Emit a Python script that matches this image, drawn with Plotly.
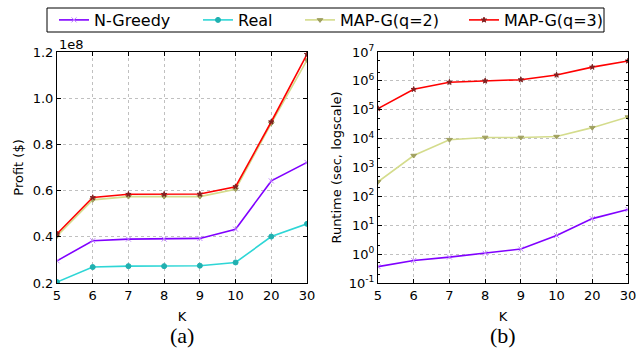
import plotly.graph_objects as go

K = ["5", "6", "7", "8", "9", "10", "20", "30"]

# Profit in units of 1e8 $
profit_ngreedy = [0.296, 0.383, 0.390, 0.390, 0.393, 0.433, 0.642, 0.722]
profit_real = [0.204, 0.269, 0.273, 0.273, 0.275, 0.289, 0.401, 0.456]
profit_mapg2 = [0.404, 0.560, 0.574, 0.574, 0.574, 0.606, 0.891, 1.165]
profit_mapg3 = [0.413, 0.570, 0.584, 0.584, 0.585, 0.617, 0.898, 1.190]

# Runtime in seconds
rt_ngreedy = [0.37, 0.60, 0.79, 1.07, 1.5, 4.4, 17, 35]
rt_mapg2 = [320, 2600, 9200, 11000, 11000, 11800, 24000, 56000]
rt_mapg3 = [1.1e5, 5.1e5, 9.0e5, 1.0e6, 1.1e6, 1.6e6, 3.0e6, 4.9e6]

names = ["N-Greedy", "Real", "MAP-G(q=2)", "MAP-G(q=3)"]
colors = ["#8000ff", "#2ed6d6", "#d4dc8c", "#ff0000"]
symbols = ["x-thin", "circle", "triangle-down", "star"]
msizes = [5, 5, 5, 4]
mcolors = ["#c080ff", "#20b0b0", "#a0a060", "#802020"]
legend_ids = ["legend", "legend2", "legend3", "legend4"]
legend_x = [54, 198, 300, 464]

FONT = "DejaVu Sans"
fig = go.Figure()

def add(x, y, i, xa, ya, show):
    fig.add_trace(go.Scatter(
        x=x, y=y, name=names[i], mode="lines+markers",
        line=dict(color=colors[i], width=1.6),
        marker=dict(symbol=symbols[i], size=msizes[i], color=mcolors[i],
                    line=dict(color=mcolors[i], width=1)),
        xaxis=xa, yaxis=ya, showlegend=show, legend=legend_ids[i]))

add(K, profit_ngreedy, 0, "x", "y", True)
add(K, profit_real, 1, "x", "y", True)
add(K, profit_mapg2, 2, "x", "y", True)
add(K, profit_mapg3, 3, "x", "y", True)
add(K, rt_ngreedy, 0, "x2", "y2", False)
add(K, rt_mapg2, 2, "x2", "y2", False)
add(K, rt_mapg3, 3, "x2", "y2", False)

axcommon = dict(showline=True, linecolor="black", linewidth=1, mirror="allticks",
                ticks="inside", ticklen=4, tickcolor="black",
                showgrid=True, gridcolor="#c0c0c0", griddash="dot", gridwidth=1,
                zeroline=False, tickfont=dict(family=FONT, size=13, color="black"))

yb = 1 - 283 / 354
yt = 1 - 52 / 354
layout = dict(
    width=640, height=354, margin=dict(l=0, r=0, t=0, b=0, autoexpand=False),
    paper_bgcolor="white", plot_bgcolor="white",
    font=dict(family=FONT, size=13, color="black"),
    xaxis=dict(domain=[57 / 640, 307 / 640], anchor="y", type="category",
               range=[0, 7],
               title=dict(text="K", font=dict(size=13), standoff=10), **axcommon),
    yaxis=dict(domain=[yb, yt], anchor="x", range=[0.2, 1.2],
               tickvals=[0.2, 0.4, 0.6, 0.8, 1.0, 1.2],
               ticktext=["0.2", "0.4", "0.6", "0.8", "1.0", "1.2"],
               title=dict(text="Profit ($)", font=dict(size=13), standoff=6), **axcommon),
    xaxis2=dict(domain=[378 / 640, 628 / 640], anchor="y2", type="category",
                range=[0, 7],
                title=dict(text="K", font=dict(size=13), standoff=10), **axcommon),
    yaxis2=dict(domain=[yb, yt], anchor="x2", type="log", range=[-1, 7],
                tickvals=[10 ** e for e in range(-1, 8)],
                ticktext=["10<sup>%d</sup>" % e for e in range(-1, 8)],
                minor=dict(ticks="inside", ticklen=2, tickcolor="black", showgrid=False),
                title=dict(text="Runtime (sec, logscale)", font=dict(size=13), standoff=4),
                **axcommon),
    shapes=[dict(type="rect", xref="paper", yref="paper",
                 x0=47 / 640, x1=604 / 640, y0=1 - 32 / 354, y1=1 - 8 / 354,
                 line=dict(color="black", width=1), fillcolor="rgba(0,0,0,0)")],
    annotations=[
        dict(text="1e8", x=57 / 640, y=yt, xref="paper", yref="paper",
             xanchor="left", yanchor="bottom", showarrow=False,
             font=dict(family=FONT, size=13), yshift=-2),
        dict(text="(a)", x=182 / 640, y=1 - 335 / 354, xref="paper", yref="paper",
             xanchor="center", yanchor="middle", showarrow=False,
             font=dict(family="Liberation Serif", size=22)),
        dict(text="(b)", x=503 / 640, y=1 - 335 / 354, xref="paper", yref="paper",
             xanchor="center", yanchor="middle", showarrow=False,
             font=dict(family="Liberation Serif", size=22)),
    ],
)
for lid, lx in zip(legend_ids, legend_x):
    layout[lid] = dict(orientation="h", x=lx / 640, y=1 - 20 / 354,
                       xanchor="left", yanchor="middle",
                       bgcolor="rgba(0,0,0,0)", borderwidth=0,
                       font=dict(family=FONT, size=16), itemwidth=30)
fig.update_layout(**layout)

fig.write_html("out.html")
